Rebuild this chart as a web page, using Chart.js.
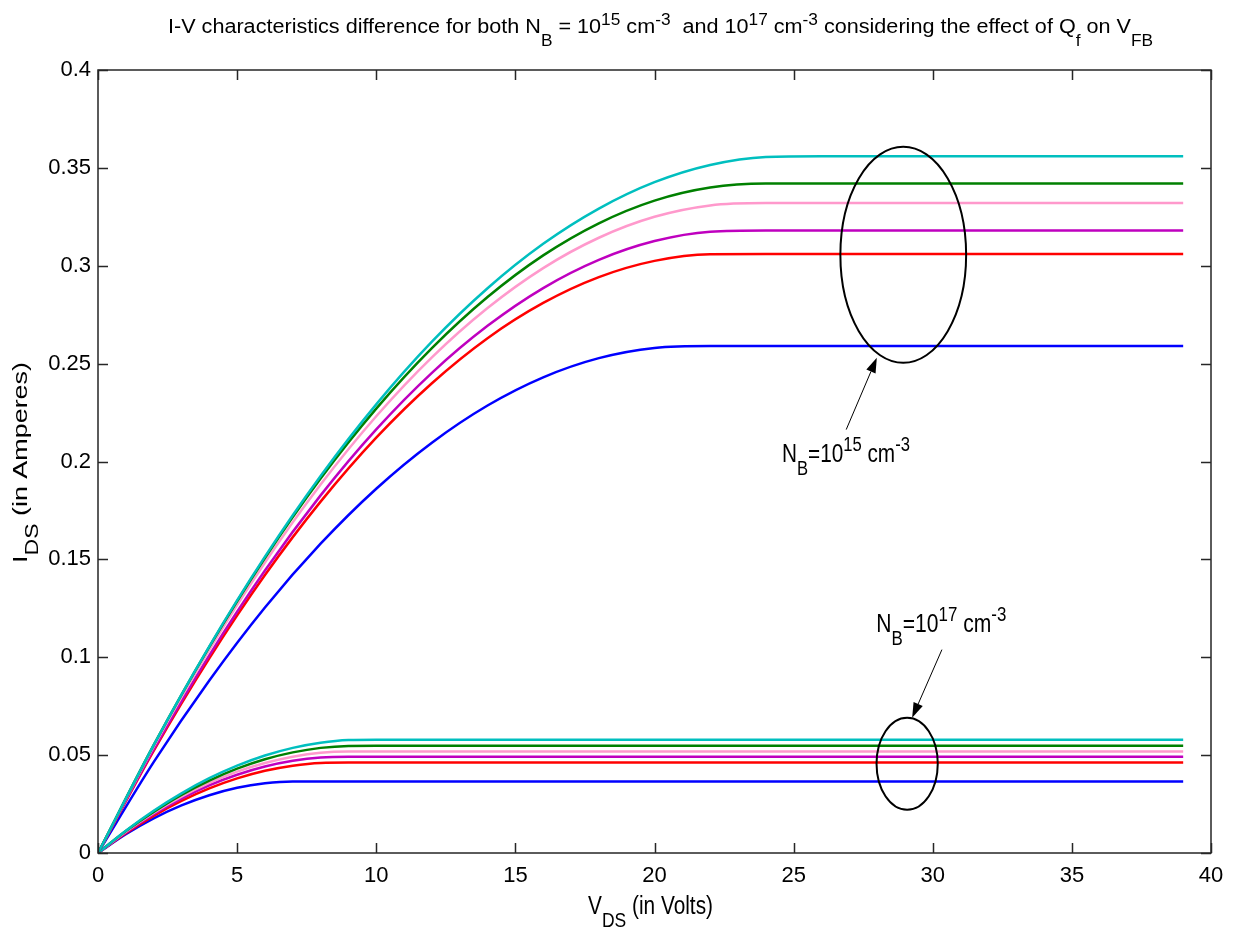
<!DOCTYPE html>
<html>
<head>
<meta charset="utf-8">
<title>I-V characteristics</title>
<script src="https://cdn.jsdelivr.net/npm/chart.js@4.4.1/dist/chart.umd.min.js"></script>
<style>
  html, body { margin: 0; padding: 0; background: #fff; }
  #wrap { width: 1234px; height: 932px; }
</style>
</head>
<body>
<div id="wrap"><canvas id="iv" width="1234" height="932"></canvas></div>
<script>
// drain voltage samples (V)
const vHigh = [0, 2, 4, 6, 8, 10, 12, 14, 16, 18, 20, 22, 24, 26, 39]
const vLow = [0, 1, 2, 3, 4, 5, 6, 7, 8, 9, 10, 39]

// I_DS (A) for N_B = 1e15 cm^-3
const cyanHigh = [0, 0.0551, 0.1056, 0.1514, 0.1926, 0.2292, 0.2612, 0.2885, 0.3112, 0.3292, 0.3427, 0.3515, 0.3556, 0.356, 0.356]
const greenHigh = [0, 0.0551, 0.1053, 0.1507, 0.1913, 0.2270, 0.2579, 0.2840, 0.3053, 0.3217, 0.3333, 0.3400, 0.342, 0.342, 0.342]
const pinkHigh = [0, 0.0543, 0.1038, 0.1484, 0.1882, 0.2231, 0.2532, 0.2784, 0.2988, 0.3143, 0.3250, 0.3308, 0.332, 0.332, 0.332]
const magentaHigh = [0, 0.0529, 0.1010, 0.1443, 0.1827, 0.2164, 0.2453, 0.2693, 0.2886, 0.3030, 0.3126, 0.3174, 0.318, 0.318, 0.318]
const redHigh = [0, 0.0522, 0.0995, 0.1420, 0.1795, 0.2122, 0.2400, 0.2630, 0.2810, 0.2942, 0.3025, 0.3059, 0.306, 0.306, 0.306]
const blueHigh = [0, 0.0464, 0.0881, 0.1254, 0.1580, 0.1861, 0.2096, 0.2286, 0.2430, 0.2528, 0.2580, 0.259, 0.259, 0.259, 0.259]

// I_DS (A) for N_B = 1e17 cm^-3
const cyanLow = [0, 0.0114, 0.0216, 0.0305, 0.0382, 0.0446, 0.0498, 0.0537, 0.0563, 0.0577, 0.0579, 0.0579]
const greenLow = [0, 0.0112, 0.0210, 0.0297, 0.0370, 0.0431, 0.0479, 0.0514, 0.0537, 0.0547, 0.0548, 0.0548]
const pinkLow = [0, 0.0109, 0.0205, 0.0288, 0.0358, 0.0416, 0.0460, 0.0492, 0.0512, 0.0518, 0.0518, 0.0518]
const magentaLow = [0, 0.0105, 0.0198, 0.0278, 0.0346, 0.0400, 0.0442, 0.0471, 0.0488, 0.0492, 0.0492, 0.0492]
const redLow = [0, 0.0101, 0.0190, 0.0266, 0.0330, 0.0381, 0.0420, 0.0446, 0.0460, 0.0462, 0.0462, 0.0462]
const blueLow = [0, 0.0096, 0.0177, 0.0243, 0.0295, 0.0333, 0.0356, 0.0365, 0.0365, 0.0365, 0.0365, 0.0365]

const colors = {
  cyan: 'rgb(0,191,191)',
  green: 'rgb(0,128,0)',
  pink: 'rgb(255,153,204)',
  magenta: 'rgb(191,0,191)',
  red: 'rgb(255,0,0)',
  blue: 'rgb(0,0,255)'
}

// annotation ellipses / arrows / labels, in data units
const ellipses = [
  { cx: 28.94, cy: 0.3056, rx: 2.26, ry: 0.0552 },
  { cx: 29.08, cy: 0.0456, rx: 1.10, ry: 0.0235 }
]
const arrows = [
  { from: [26.89, 0.2163], to: [27.99, 0.2530] },
  { from: [30.33, 0.1039], to: [29.26, 0.0691] }
]
const noteLabels = [
  { x: 24.58, y: 0.200, exp: '15', width: 128 },
  { x: 27.97, y: 0.1131, exp: '17', width: 130 }
]

const FONT = '"Liberation Sans", Arial, sans-serif'

function series (label, xs, ys, color) {
  return {
    label,
    data: xs.map((x, i) => ({ x, y: ys[i] })),
    borderColor: color,
    backgroundColor: color,
    borderWidth: 2.5,
    pointRadius: 0,
    cubicInterpolationMode: 'monotone',
    fill: false
  }
}

const datasets = [
  series('cyan 1e15', vHigh, cyanHigh, colors.cyan),
  series('green 1e15', vHigh, greenHigh, colors.green),
  series('pink 1e15', vHigh, pinkHigh, colors.pink),
  series('magenta 1e15', vHigh, magentaHigh, colors.magenta),
  series('red 1e15', vHigh, redHigh, colors.red),
  series('blue 1e15', vHigh, blueHigh, colors.blue),
  series('cyan 1e17', vLow, cyanLow, colors.cyan),
  series('green 1e17', vLow, greenLow, colors.green),
  series('pink 1e17', vLow, pinkLow, colors.pink),
  series('magenta 1e17', vLow, magentaLow, colors.magenta),
  series('red 1e17', vLow, redLow, colors.red),
  series('blue 1e17', vLow, blueLow, colors.blue)
]

// text with sub/superscripts, squeezed horizontally to a given width
function drawRich (ctx, parts, x, y, opt) {
  const main = opt.size + 'px ' + FONT
  const small = opt.small + 'px ' + FONT
  let natural = 0
  parts.forEach(p => {
    ctx.font = p.sub || p.sup ? small : main
    natural += ctx.measureText(p.sub || p.sup || p.t).width
  })
  const sx = opt.width ? opt.width / natural : 1
  ctx.save()
  ctx.translate(x, y)
  if (opt.rotate) ctx.rotate(opt.rotate)
  ctx.scale(sx, 1)
  ctx.fillStyle = '#000'
  ctx.textBaseline = 'alphabetic'
  ctx.textAlign = 'left'
  let cx = 0
  parts.forEach(p => {
    let dy = 0
    let txt = p.t
    if (p.sub) { ctx.font = small; dy = opt.subDy; txt = p.sub } else if (p.sup) { ctx.font = small; dy = opt.supDy; txt = p.sup } else { ctx.font = main }
    ctx.fillText(txt, cx, dy)
    cx += ctx.measureText(txt).width
  })
  ctx.restore()
}

const decorations = {
  id: 'decorations',
  afterDraw (chart) {
    const ctx = chart.ctx
    const xs = chart.scales.x
    const ys = chart.scales.y
    const area = chart.chartArea
    const tick = 10

    ctx.save()
    // axes box with inward ticks on all four sides
    ctx.strokeStyle = '#262626'
    ctx.lineWidth = 1.5
    ctx.strokeRect(area.left, area.top, area.right - area.left, area.bottom - area.top)
    ctx.beginPath()
    xs.ticks.forEach(t => {
      const px = Math.round(xs.getPixelForValue(t.value)) + 0.5
      ctx.moveTo(px, area.bottom); ctx.lineTo(px, area.bottom - tick)
      ctx.moveTo(px, area.top); ctx.lineTo(px, area.top + tick)
    })
    ys.ticks.forEach(t => {
      const py = Math.round(ys.getPixelForValue(t.value)) + 0.5
      ctx.moveTo(area.left, py); ctx.lineTo(area.left + tick, py)
      ctx.moveTo(area.right, py); ctx.lineTo(area.right - tick, py)
    })
    ctx.stroke()

    // ellipses around the curve families
    ctx.strokeStyle = '#000'
    ctx.lineWidth = 2
    ellipses.forEach(e => {
      const cx = xs.getPixelForValue(e.cx)
      const cy = ys.getPixelForValue(e.cy)
      const rx = xs.getPixelForValue(e.cx + e.rx) - cx
      const ry = cy - ys.getPixelForValue(e.cy + e.ry)
      ctx.beginPath()
      ctx.ellipse(cx, cy, rx, ry, 0, 0, Math.PI * 2)
      ctx.stroke()
    })

    // arrows
    ctx.lineWidth = 1
    ctx.fillStyle = '#000'
    arrows.forEach(a => {
      const x0 = xs.getPixelForValue(a.from[0])
      const y0 = ys.getPixelForValue(a.from[1])
      const x1 = xs.getPixelForValue(a.to[0])
      const y1 = ys.getPixelForValue(a.to[1])
      const ang = Math.atan2(y1 - y0, x1 - x0)
      const len = 15
      const half = 5
      const bx = x1 - len * Math.cos(ang)
      const by = y1 - len * Math.sin(ang)
      ctx.beginPath()
      ctx.moveTo(x0, y0); ctx.lineTo(bx, by)
      ctx.stroke()
      ctx.beginPath()
      ctx.moveTo(x1, y1)
      ctx.lineTo(bx + half * Math.sin(ang), by - half * Math.cos(ang))
      ctx.lineTo(bx - half * Math.sin(ang), by + half * Math.cos(ang))
      ctx.closePath()
      ctx.fill()
    })

    noteLabels.forEach(n => {
      drawRich(ctx, [{ t: 'N' }, { sub: 'B' }, { t: '=10' }, { sup: n.exp }, { t: ' cm' }, { sup: '-3' }],
        xs.getPixelForValue(n.x), ys.getPixelForValue(n.y),
        { size: 25, small: 20, subDy: 13, supDy: -11, width: n.width })
    })

    // title
    drawRich(ctx, [
      { t: 'I-V characteristics difference for both N' }, { sub: 'B' }, { t: ' = 10' }, { sup: '15' },
      { t: ' cm' }, { sup: '-3' }, { t: '  and 10' }, { sup: '17' }, { t: ' cm' }, { sup: '-3' },
      { t: ' considering the effect of Q' }, { sub: 'f' }, { t: ' on V' }, { sub: 'FB' }
    ], 168, 33, { size: 20, small: 16, subDy: 13, supDy: -8, width: 985 })

    // axis titles
    drawRich(ctx, [{ t: 'V' }, { sub: 'DS' }, { t: ' (in Volts)' }], 588, 914,
      { size: 25, small: 21, subDy: 13, supDy: 0, width: 125 })
    drawRich(ctx, [{ t: 'I' }, { sub: 'DS' }, { t: ' (in Amperes)' }], 27, 563,
      { size: 21, small: 18, subDy: 11, supDy: 0, width: 201, rotate: -Math.PI / 2 })
    ctx.restore()
  }
}

new Chart(document.getElementById('iv'), {
  type: 'line',
  data: { datasets },
  options: {
    responsive: false,
    animation: false,
    layout: { padding: { top: 70, right: 23, bottom: 0, left: 0 } },
    plugins: {
      legend: { display: false },
      title: { display: false },
      tooltip: { enabled: false }
    },
    scales: {
      x: {
        type: 'linear',
        min: 0,
        max: 40,
        grid: { display: false, drawTicks: false },
        border: { display: false },
        ticks: {
          stepSize: 5,
          color: '#000',
          padding: 10,
          maxRotation: 0,
          font: { family: FONT, size: 22 }
        },
        afterFit: (scale) => { scale.height = 79 }
      },
      y: {
        type: 'linear',
        min: 0,
        max: 0.4,
        grid: { display: false, drawTicks: false },
        border: { display: false },
        ticks: {
          stepSize: 0.05,
          color: '#000',
          padding: 7,
          font: { family: FONT, size: 22 },
          callback: (v) => String(+v.toFixed(2))
        },
        afterFit: (scale) => { scale.width = 98 }
      }
    }
  },
  plugins: [decorations]
})
</script>
</body>
</html>
